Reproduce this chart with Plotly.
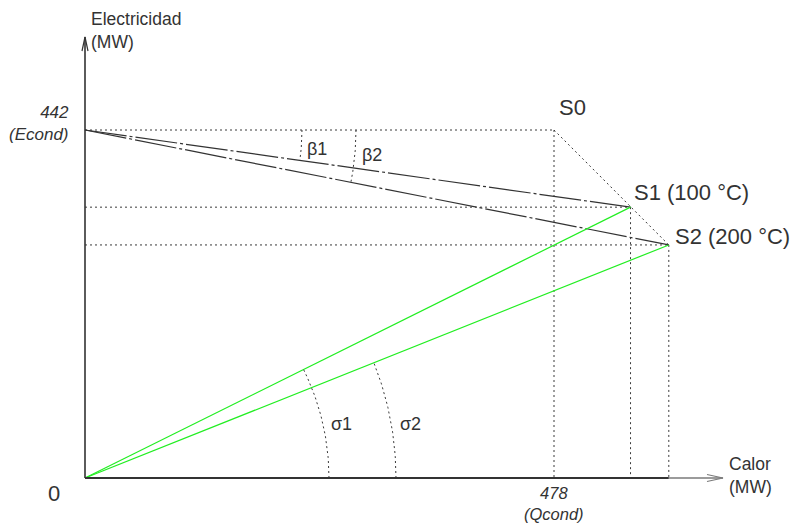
import math
import plotly.graph_objects as go

# --- data -------------------------------------------------------------
econd = 442          # electricity in pure condensing mode (MW)
qcond = 478          # heat rejected in condensing mode (MW)
state_names = ["S0", "S1 (100 °C)", "S2 (200 °C)"]
calor = [478, 556, 595]          # heat output of each state (MW)
electricidad = [442, 344, 296]   # electricity output of each state (MW)
beta_labels = ["β1", "β2"]
sigma_labels = ["σ1", "σ2"]

# --- canvas / scale ---------------------------------------------------
W, H = 795, 524
ORIGIN_PX = (85, 478)          # pixel position of (0, 0)
QCOND_PX, ECOND_PX = 554, 130  # pixel positions of qcond on x and econd on y
KX = (QCOND_PX - ORIGIN_PX[0]) / qcond
KY = (ORIGIN_PX[1] - ECOND_PX) / econd
x_range = [-ORIGIN_PX[0] / KX, (W - ORIGIN_PX[0]) / KX]
y_range = [-(H - ORIGIN_PX[1]) / KY, ORIGIN_PX[1] / KY]


def dx(px):
    return px / KX


def dy(px):
    return px / KY


def angle_to(cx, cy, px, py):
    return math.atan2((py - cy) * KY, (px - cx) * KX)


def arc(cx, cy, r_px, a0, a1, n=60):
    xs, ys = [], []
    for i in range(n + 1):
        a = a0 + (a1 - a0) * i / n
        xs.append(cx + dx(r_px * math.cos(a)))
        ys.append(cy + dy(r_px * math.sin(a)))
    return xs, ys


INK = "#333333"
DOT_COLOR = "#3a3a3a"
GREEN = "#22ee22"
DOT = "2px,3px"
DASHDOT = "42px,3px,3px,3px"
FONT = "Liberation Sans, Arial, sans-serif"

fig = go.Figure()


def seg(xs, ys, color, width, dash=None):
    fig.add_trace(go.Scatter(x=xs, y=ys, mode="lines", hoverinfo="skip",
                             line=dict(color=color, width=width, dash=dash)))


s0x, s0y = calor[0], electricidad[0]

# dotted construction lines
seg([0, s0x], [econd, econd], DOT_COLOR, 1, DOT)
seg([s0x, s0x], [s0y, 0], DOT_COLOR, 1, DOT)
seg(calor, electricidad, DOT_COLOR, 1, DOT)
for cx, cy in zip(calor[1:], electricidad[1:]):
    seg([0, cx], [cy, cy], DOT_COLOR, 1, DOT)
    seg([cx, cx], [cy, 0], DOT_COLOR, 1, DOT)

# electricity loss lines from (0, Econd) to each state
for cx, cy in zip(calor[1:], electricidad[1:]):
    seg([0, cx], [econd, cy], INK, 1.2, DASHDOT)

# power-to-heat lines from the origin
for cx, cy in zip(calor[1:], electricidad[1:]):
    seg([0, cx], [0, cy], GREEN, 1.2)

# angle arcs
beta_r = [217, 271]
sigma_r = [244, 311]
for r, cx, cy in zip(beta_r, calor[1:], electricidad[1:]):
    xs, ys = arc(0, econd, r, 0, angle_to(0, econd, cx, cy))
    seg(xs, ys, DOT_COLOR, 1, DOT)
for r, cx, cy in zip(sigma_r, calor[1:], electricidad[1:]):
    xs, ys = arc(0, 0, r, 0, angle_to(0, 0, cx, cy))
    seg(xs, ys, DOT_COLOR, 1, DOT)

# axes with open arrow heads
x_tip = dx(723 - ORIGIN_PX[0])
y_tip = dy(ORIGIN_PX[1] - 37)
seg([0, 0], [0, y_tip], INK, 1.6)
seg([0, calor[2]], [0, 0], INK, 2)
seg([calor[2], x_tip], [0, 0], "#7a7a7a", 1.6)
seg([x_tip - dx(16), x_tip, x_tip - dx(16)], [dy(3.5), 0, -dy(3.5)], "#7a7a7a", 1.2)
seg([-dx(3), 0, dx(3)], [y_tip - dy(14), y_tip, y_tip - dy(14)], INK, 1.2)

# --- labels -----------------------------------------------------------
ann = []


def label(text, x, y, size, xanchor="center", xshift=0, yshift=0, align="center", color=INK):
    ann.append(dict(text=text, x=x, y=y, xref="x", yref="y", showarrow=False,
                    xanchor=xanchor, yanchor="middle", xshift=xshift, yshift=yshift,
                    align=align, font=dict(family=FONT, size=size, color=color)))


label("Electricidad<br>(MW)", 0, dy(ORIGIN_PX[1] - 30), 17.5, xanchor="left", xshift=4, align="left")
label("Calor<br>(MW)", x_tip, 0, 17.5, xanchor="left", xshift=4, yshift=3, align="left")
label(f"<i>{econd}</i><br><i>(Econd)</i>", 0, econd, 17, xanchor="right", xshift=-14, yshift=7, align="right")
label(f"<i>{qcond}</i><br><i>(Qcond)</i>", qcond, 0, 16.5, yshift=-25)
label("0", 0, 0, 22, xshift=-31, yshift=-15)

state_offsets = [(3, 23), (1, 15), (4, 8)]
for name, cx, cy, (sx, sy) in zip(state_names, calor, electricidad, state_offsets):
    label(name, cx, cy, 22, xanchor="left", xshift=sx, yshift=sy)

beta_offsets = [(232, -19), (287, -25)]
for t, (sx, sy) in zip(beta_labels, beta_offsets):
    label(t, 0, econd, 18, xshift=sx, yshift=sy)
sigma_offsets = [(256, 54), (325, 54)]
for t, (sx, sy) in zip(sigma_labels, sigma_offsets):
    label(t, 0, 0, 18, xshift=sx, yshift=sy)

fig.update_layout(
    width=W, height=H, margin=dict(l=0, r=0, t=0, b=0),
    paper_bgcolor="white", plot_bgcolor="white", showlegend=False,
    xaxis=dict(range=x_range, visible=False, fixedrange=True),
    yaxis=dict(range=y_range, visible=False, fixedrange=True),
    annotations=ann,
)

fig.write_html("out.html")
